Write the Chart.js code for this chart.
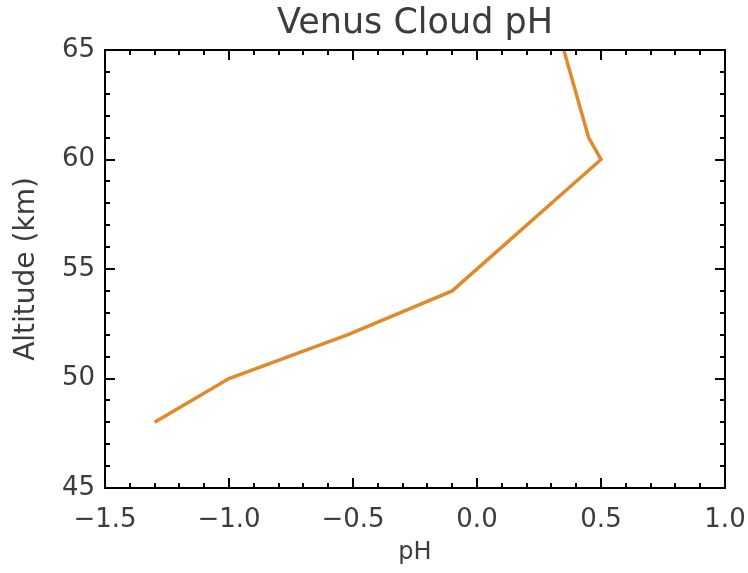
<!DOCTYPE html>
<html>
<head>
<meta charset="utf-8">
<script src="https://cdn.jsdelivr.net/npm/chart.js@4"></script>
<style>
  html, body { margin: 0; padding: 0; background: #fff; }
  #wrap { width: 748px; height: 573px; }
</style>
</head>
<body>
<div id="wrap"><canvas id="chart"></canvas></div>
<script>
// Venus cloud pH profile
const altitude = [48, 50, 52, 54, 60, 61, 65];
const cloudPH = [-1.3, -1.0, -0.52, -0.1, 0.5, 0.45, 0.35];
const xTickValues = [-1.5, -1.0, -0.5, 0.0, 0.5, 1.0];
const yTickValues = [45, 50, 55, 60, 65];
const xMinorStep = 0.1;
const yMinorStep = 1;

const textColor = '#3c3c3c';
const fontFamily = 'DejaVu Sans';

function fmtPH(v) {
    const s = Math.abs(v).toFixed(1);
    return v < -1e-9 ? '\u2212' + s : s;
}

// box around the plot with IDL style inward ticks on all four sides
const frameTicks = {
    id: 'frameTicks',
    afterDatasetsDraw(chart) {
        const {ctx, chartArea: a, scales} = chart;
        const xs = scales.x, ys = scales.y;
        ctx.save();
        ctx.strokeStyle = '#000';
        ctx.lineWidth = 2;
        ctx.beginPath();
        const nx = Math.round((xs.max - xs.min) / xMinorStep);
        for (let i = 0; i <= nx; i++) {
            const v = xs.min + i * xMinorStep;
            const px = Math.round(xs.getPixelForValue(v));
            const len = i % 5 === 0 ? 10 : 5;
            ctx.moveTo(px, a.bottom); ctx.lineTo(px, a.bottom - len);
            ctx.moveTo(px, a.top); ctx.lineTo(px, a.top + len);
        }
        const ny = Math.round((ys.max - ys.min) / yMinorStep);
        for (let i = 0; i <= ny; i++) {
            const v = ys.min + i * yMinorStep;
            const py = Math.round(ys.getPixelForValue(v));
            const len = i % 5 === 0 ? 10 : 5;
            ctx.moveTo(a.left, py); ctx.lineTo(a.left + len, py);
            ctx.moveTo(a.right, py); ctx.lineTo(a.right - len, py);
        }
        ctx.stroke();
        ctx.strokeRect(a.left, a.top, a.right - a.left, a.bottom - a.top);
        ctx.restore();
    }
};

const chart = new Chart(document.getElementById('chart'), {
    type: 'scatter',
    data: {
        datasets: [{
            label: 'pH',
            data: cloudPH.map((p, i) => ({x: p, y: altitude[i]})),
            showLine: true,
            borderColor: '#e08a2c',
            borderWidth: 3.5,
            pointRadius: 0,
            fill: false,
            tension: 0
        }]
    },
    options: {
        responsive: true,
        maintainAspectRatio: false,
        animation: false,
        layout: { padding: { right: 23 } },
        plugins: {
            legend: { display: false },
            tooltip: { enabled: false }
        },
        scales: {
            x: {
                type: 'linear',
                position: 'bottom',
                min: -1.5,
                max: 1.0,
                afterBuildTicks: s => { s.ticks = xTickValues.map(v => ({value: v})); },
                ticks: {
                    font: { family: fontFamily, size: 26 },
                    color: textColor,
                    padding: 17,
                    maxRotation: 0,
                    callback: v => fmtPH(v)
                },
                grid: { display: false, drawTicks: false },
                border: { display: false },
                title: {
                    display: true,
                    text: 'pH',
                    font: { family: fontFamily, size: 24 },
                    color: textColor,
                    padding: { top: 0, bottom: 6 }
                },
                afterFit: s => { s.height = 85; s.paddingLeft = 0; s.paddingRight = 0; }
            },
            x2: {
                type: 'linear',
                position: 'top',
                min: -1.5,
                max: 1.0,
                ticks: { display: false },
                grid: { display: false, drawTicks: false },
                border: { display: false },
                title: {
                    display: true,
                    text: 'Venus Cloud pH',
                    font: { family: fontFamily, size: 35 },
                    color: textColor,
                    padding: { top: 3, bottom: 0 }
                },
                afterFit: s => { s.height = 50; s.paddingLeft = 0; s.paddingRight = 0; }
            },
            y: {
                type: 'linear',
                position: 'left',
                min: 45,
                max: 65,
                afterBuildTicks: s => { s.ticks = yTickValues.map(v => ({value: v})); },
                ticks: {
                    font: { family: fontFamily, size: 26 },
                    color: textColor,
                    padding: 10
                },
                grid: { display: false, drawTicks: false },
                border: { display: false },
                title: {
                    display: true,
                    text: 'Altitude (km)',
                    font: { family: fontFamily, size: 28 },
                    color: textColor,
                    padding: { top: 10, bottom: 0 }
                },
                afterFit: s => { s.width = 105; }
            }
        }
    },
    plugins: [frameTicks]
});
</script>
</body>
</html>
